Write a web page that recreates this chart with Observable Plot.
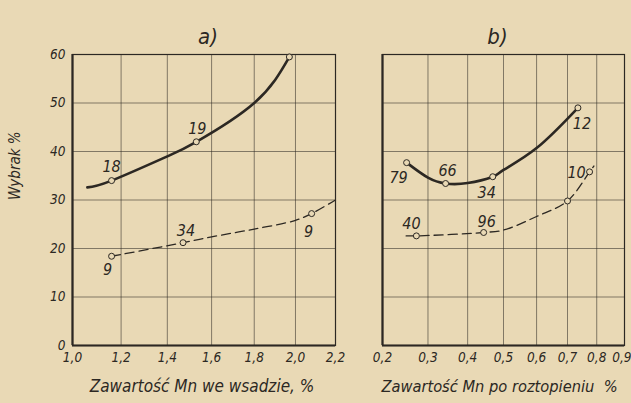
<!DOCTYPE html>
<html><head><meta charset="utf-8">
<script src="https://cdn.jsdelivr.net/npm/d3@7"></script>
<script src="https://cdn.jsdelivr.net/npm/@observablehq/plot@0.6"></script>
<style>
body{margin:0;background:#e9d9b5;}
#wrap{position:relative;width:631px;height:403px;overflow:hidden;background:#e9d9b5;}
#wrap svg{position:absolute;top:0;}
</style></head><body><div id="wrap"></div>
<script>
// ---- data ----
const yTicks = [0, 10, 20, 30, 40, 50, 60];
const aTicksX = [1.0, 1.2, 1.4, 1.6, 1.8, 2.0, 2.2];
const bTicksX = [0.2, 0.3, 0.4, 0.5, 0.6, 0.7, 0.8, 0.9];

// panel a) – Mn in charge
const aSolidX = [1.06, 1.16, 1.4, 1.53, 1.8, 1.97];
const aSolidY = [32.6, 34, 39, 42, 50, 59.5];
const aDashX = [1.16, 1.47, 1.6, 1.8, 2.0, 2.08, 2.2];
const aDashY = [18.4, 21.2, 22.4, 24, 25.8, 27.2, 30];
const aPtX = [1.16, 1.53, 1.97, 1.16, 1.47, 2.08];
const aPtY = [34, 42, 59.5, 18.4, 21.2, 27.2];
const aPtLabel = ["18", "19", "", "9", "34", "9"];

// panel b) – Mn after melting
const bSolidX = [0.251, 0.30, 0.343, 0.40, 0.469, 0.5, 0.6, 0.735];
const bSolidY = [37.7, 34.6, 33.4, 33.5, 34.8, 36.2, 40.7, 49];
const bDashX = [0.25, 0.273, 0.4435, 0.5, 0.6, 0.7, 0.775, 0.79];
const bDashY = [22.6, 22.6, 23.3, 23.8, 26.6, 29.8, 35.8, 37];
const bPtX = [0.251, 0.343, 0.469, 0.735, 0.273, 0.4435, 0.7, 0.775];
const bPtY = [37.7, 33.4, 34.8, 49, 22.6, 23.3, 29.8, 35.8];
const bPtLabel = ["79", "66", "34", "12", "40", "96", "", "10"];

const titles = ["a)", "b)"];
const xLabels = ["Zawartość Mn we wsadzie, %", "Zawartość Mn po roztopieniu  %"];
const yLabel = "Wybrak %";

// ---- drawing ----
const ink = "#2c2823";
const bg = "#e9d9b5";
const font = "'Liberation Sans Narrow','DejaVu Sans Condensed',sans-serif";
const fmt = d => d.toFixed(1).replace(".", ",");
const zip = (xs, ys) => xs.map((x, i) => ({x, y: ys[i]}));

function panel(o) {
  const solid = zip(o.solidX, o.solidY);
  const dash = zip(o.dashX, o.dashY);
  const pts = o.ptX.map((x, i) => ({x, y: o.ptY[i], t: o.ptLabel[i]}));
  const labelMarks = pts.map((p, i) => p.t ? Plot.text([p], {x: "x", y: "y", text: "t", dx: o.off[i][0], dy: o.off[i][1], fontSize: 16, fill: ink}) : null);
  const n = o.ticks.length;
  const mainTicks = o.lastEnd ? o.ticks.slice(0, n - 1) : o.ticks;
  return Plot.plot({
    width: o.width, height: 403,
    marginTop: 54, marginBottom: 58, marginLeft: o.ml, marginRight: o.mr,
    x: {type: "pow", exponent: o.exp, domain: [o.ticks[0], o.ticks[n - 1]]},
    y: {domain: [0, 60], axis: o.showY ? undefined : null},
    style: {background: "transparent", fontFamily: font, fontStyle: "italic", fontSize: "13px", color: ink, overflow: "visible"},
    marks: [
      Plot.gridX(o.ticks, {stroke: ink, strokeOpacity: 0.55, strokeWidth: 1}),
      Plot.gridY(yTicks, {stroke: ink, strokeOpacity: 0.55, strokeWidth: 1}),
      Plot.frame({stroke: ink, strokeWidth: 1.2}),
      Plot.ruleX([o.ticks[0]], {stroke: ink, strokeWidth: 2.2}),
      Plot.ruleY([0], {stroke: ink, strokeWidth: 2.2}),
      Plot.axisX(mainTicks, {tickSize: 0, tickPadding: 7, tickFormat: fmt, label: null, fontSize: 13.5}),
      o.lastEnd ? Plot.axisX([o.ticks[n - 1]], {tickSize: 0, tickPadding: 7, tickFormat: fmt, label: null, fontSize: 13.5, textAnchor: "end", dx: o.mr}) : null,
      o.showY ? Plot.axisY(yTicks, {tickSize: 0, tickPadding: 7, label: null, fontSize: 13.5}) : null,
      Plot.line(solid, {x: "x", y: "y", curve: "natural", stroke: ink, strokeWidth: 2.6}),
      Plot.line(dash, {x: "x", y: "y", curve: "catmull-rom", stroke: ink, strokeWidth: 1.3, strokeDasharray: "9,5"}),
      Plot.dot(pts, {x: "x", y: "y", r: 3, fill: bg, stroke: ink, strokeWidth: 1}),
      ...labelMarks,
      Plot.text([o.title], {frameAnchor: "top", dx: o.titleDx, dy: -26, fontSize: 22, fill: ink}),
      Plot.text([o.xlabel], {frameAnchor: "bottom", dx: o.xlabelDx, dy: 46, fontSize: o.xlabelSize, fill: ink}),
      o.showY ? Plot.text([yLabel], {frameAnchor: "left", dx: -57, rotate: -90, fontSize: 15, fill: ink}) : null
    ]
  });
}

const a = panel({
  width: 345, ml: 72, mr: 10, exp: 0.7, ticks: aTicksX, showY: true, lastEnd: false,
  solidX: aSolidX, solidY: aSolidY, dashX: aDashX, dashY: aDashY,
  ptX: aPtX, ptY: aPtY, ptLabel: aPtLabel,
  off: [[0, -14], [1, -13], [0, 0], [-4, 14], [3, -12], [-3, 18]],
  title: titles[0], titleDx: 4, xlabel: xLabels[0], xlabelDx: -2, xlabelSize: 17
});
const b = panel({
  width: 286, ml: 37, mr: 7, exp: 0.6, ticks: bTicksX, showY: false, lastEnd: true,
  solidX: bSolidX, solidY: bSolidY, dashX: bDashX, dashY: bDashY,
  ptX: bPtX, ptY: bPtY, ptLabel: bPtLabel,
  off: [[-8, 15], [2, -13], [-6, 16], [4, 16], [-5, -12], [3, -11], [0, 0], [-13, 1]],
  title: titles[1], titleDx: -6, xlabel: xLabels[1], xlabelDx: -4, xlabelSize: 16.3
});
a.style.left = "0px";
b.style.left = "345px";
document.getElementById("wrap").append(a, b);
</script>
</body></html>
